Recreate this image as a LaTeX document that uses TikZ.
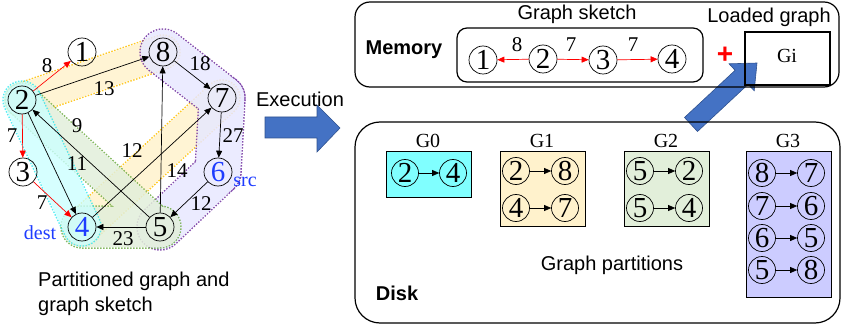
\documentclass[tikz,border=0pt]{standalone}
\usepackage{fontspec}
\setmainfont{Liberation Serif}
\setsansfont{Liberation Sans}
\usetikzlibrary{calc,arrows.meta}
\definecolor{execblue}{HTML}{4472C4}
\definecolor{execedge}{HTML}{2F528F}
\definecolor{txtblue}{RGB}{30,60,255}
\definecolor{gzerofill}{HTML}{80FFFF}
\definecolor{gonefill}{HTML}{FFF2CC}
\definecolor{gtwofill}{HTML}{E2EFDA}
\definecolor{gthreefill}{HTML}{CCCCFF}
\definecolor{gzeroline}{HTML}{30E8F0}
\definecolor{goneline}{HTML}{FFC000}
\definecolor{gtwoline}{HTML}{70AD47}
\definecolor{gthreeline}{HTML}{7030A0}

% stadium round the edge from #2 to #3, radius #4 (pt)
\newcommand{\partband}[4]{%
  \path[#1] let \p1=($(#3)-(#2)$), \n1={atan2(\y1,\x1)} in
    ($(#2)+(\n1+90:#4pt)$) arc[start angle=\n1+90, delta angle=180, radius=#4pt]
    -- ($(#3)+(\n1-90:#4pt)$) arc[start angle=\n1-90, delta angle=180, radius=#4pt] -- cycle;}

\begin{document}
\begin{tikzpicture}[x=1pt,y=-1pt,
  vtx/.style={circle,draw,line width=0.7pt,inner sep=0pt,minimum size=28pt,font=\fontsize{29}{29}\selectfont},
  pvtx/.style={vtx,minimum size=27pt},
  wlbl/.style={font=\fontsize{21}{21}\selectfont,inner sep=0pt},
  edge/.style={line width=0.7pt,-{Triangle[length=7pt,width=6pt]}},
  sk/.style={edge,red},
  sanslbl/.style={font=\sffamily\fontsize{20}{25}\selectfont,inner sep=0pt},
  glbl/.style={font=\fontsize{20}{20}\selectfont,inner sep=0pt,anchor=base},
  pbox/.style={draw,line width=1pt},
  hline/.style={line width=1.5pt,dash pattern=on 1.5pt off 1.5pt}]
\useasboundingbox (0,0) rectangle (841,326);

%% partitioned graph
\coordinate (p1) at (82,52);
\coordinate (p2) at (22,100);
\coordinate (p3) at (23,172);
\coordinate (p4) at (82,227);
\coordinate (p5) at (160,227);
\coordinate (p6) at (218,172);
\coordinate (p7) at (222,98);
\coordinate (p8) at (163,52);

% G1
\begin{scope}[transparency group,opacity=0.85]
\partband{hline,draw=goneline}{p2}{p8}{17}
\partband{hline,draw=goneline}{p4}{p7}{18}
\partband{fill=gonefill}{p2}{p8}{16.2}
\partband{fill=gonefill}{p4}{p7}{17.2}
\end{scope}
% G3
\begin{scope}[transparency group,opacity=0.85]
\partband{hline,draw=gthreeline}{p8}{p7}{23}
\partband{hline,draw=gthreeline}{p7}{p6}{23}
\partband{hline,draw=gthreeline}{p6}{p5}{23}
\partband{fill=gthreefill!45}{p8}{p7}{22.2}
\partband{fill=gthreefill!45}{p7}{p6}{22.2}
\partband{fill=gthreefill!45}{p6}{p5}{22.2}
\end{scope}
% G2
\begin{scope}[transparency group,opacity=0.85]
\partband{hline,draw=gtwoline}{p5}{p2}{17}
\partband{hline,draw=gtwoline}{p5}{p4}{21}
\partband{fill=gtwofill}{p5}{p2}{16.2}
\partband{fill=gtwofill}{p5}{p4}{20.2}
\end{scope}
% G0
\begin{scope}[transparency group,opacity=0.8]
\partband{hline,draw=gzeroline}{p2}{p4}{19}
\partband{fill=gzerofill!40}{p2}{p4}{18.2}
\end{scope}

\node[vtx] (n1) at (p1) {1};
\node[vtx] (n2) at (p2) {2};
\node[vtx] (n3) at (p3) {3};
\node[vtx,text=txtblue] (n4) at (p4) {4};
\node[vtx] (n5) at (p5) {5};
\node[vtx,text=txtblue] (n6) at (p6) {6};
\node[vtx] (n7) at (p7) {7};
\node[vtx] (n8) at (p8) {8};

\draw[sk] (n2) -- (n1);
\draw[sk] (n2) -- (n3);
\draw[sk] (n3) -- (n4);
\draw[edge] (n2) -- (n8);
\draw[edge] (n8) -- (n7);
\draw[edge] (n7) -- (n6);
\draw[edge] (n6) -- (n5);
\draw[edge] (n5) -- (n8);
\draw[edge] (n5) -- (n2);
\draw[edge] (n2) -- (n4);
\draw[edge] (n4) -- (n7);
\draw[edge] (n5) -- (n4);

\node[wlbl] (w21) at (47,66) {8};
\node[wlbl] (w28) at (104,89) {13};
\node[wlbl] (w87) at (200,64) {18};
\node[wlbl] (w23) at (12,136) {7};
\node[wlbl] (w52) at (77,126) {9};
\node[wlbl] (w24) at (77,164) {11};
\node[wlbl] (w47) at (132,151) {12};
\node[wlbl] (w58) at (177,171) {14};
\node[wlbl] (w76) at (233,136) {27};
\node[wlbl] (w65) at (201,204) {12};
\node[wlbl] (w34) at (42,203) {7};
\node[wlbl] (w54) at (123,239) {23};

\node[glbl,text=txtblue] (src) at (245,186) {src};
\node[glbl,text=txtblue] (dest) at (40,239) {dest};

\node[sanslbl,align=left,anchor=north west] (cap) at (38,272) {Partitioned graph and\\graph sketch};

%% execution arrow
\draw[fill=execblue,draw=execedge,line width=0.6pt] (265,117) -- (317,117) -- (317,105) -- (340,128)
  -- (317,152) -- (317,138) -- (265,138) -- cycle;
\node[sanslbl,anchor=base] (exec) at (300,107) {Execution};

%% load arrow
\draw[fill=execblue,draw=execedge,line width=0.6pt] (684.5,117.5) -- (735.1,70.3) -- (729,63.8) -- (757,63)
  -- (754.2,90.8) -- (748.1,84.3) -- (697.5,131.5) -- cycle;

%% memory
\draw[line width=1.2pt,rounded corners=15pt] (355,2) rectangle (839,87);
\node[sanslbl,font=\sffamily\bfseries\fontsize{20}{24}\selectfont,anchor=base] (mem) at (404,55) {Memory};
\draw[line width=1.2pt,rounded corners=10pt] (457,28) rectangle (703,82);
\node[sanslbl,anchor=base] (sketch) at (577,20) {Graph sketch};
\node[vtx] (s1) at (483,60) {1};
\node[vtx] (s2) at (543,59) {2};
\node[vtx] (s3) at (603,60) {3};
\node[vtx] (s4) at (672,59) {4};
\draw[sk] (s2) -- (s1);
\draw[sk] (s2) -- (s3);
\draw[sk] (s3) -- (s4);
\node[wlbl] (u21) at (517,45) {8};
\node[wlbl] (u23) at (571,45) {7};
\node[wlbl] (u34) at (633,45) {7};
\node[text=red,inner sep=0pt,font=\sffamily\bfseries\fontsize{28}{28}\selectfont] (plus) at (725,55) {+};
\node[sanslbl,anchor=base] (loaded) at (769,23) {Loaded graph};
\draw[line width=1.2pt] (745,32) rectangle (830,85);
\node[glbl] (gi) at (787,63) {Gi};

%% disk
\draw[line width=1.2pt,rounded corners=25pt] (355,122) rectangle (840,323);
\node[sanslbl,font=\sffamily\bfseries\fontsize{20}{24}\selectfont,anchor=base] (disk) at (397,300) {Disk};
\node[sanslbl,anchor=base] (parts) at (612,270) {Graph partitions};

\node[glbl] (lg0) at (428,148) {G0};
\node[glbl] (lg1) at (542,148) {G1};
\node[glbl] (lg2) at (666,148) {G2};
\node[glbl] (lg3) at (788,148) {G3};
\draw[pbox,fill=gzerofill] (386,152) rectangle (471,197);
\draw[pbox,fill=gonefill] (500,152) rectangle (585,226);
\draw[pbox,fill=gtwofill] (624,152) rectangle (709,226);
\draw[pbox,fill=gthreefill] (746,152) rectangle (831,297);

\node[pvtx] (g0a1) at (405,173) {2};
\node[pvtx] (g0b1) at (453,173) {4};
\draw[edge] (g0a1) -- (g0b1);

\node[pvtx] (g1a1) at (516,171) {2};
\node[pvtx] (g1b1) at (565,171) {8};
\draw[edge] (g1a1) -- (g1b1);
\node[pvtx] (g1a2) at (516,208) {4};
\node[pvtx] (g1b2) at (565,208) {7};
\draw[edge] (g1a2) -- (g1b2);

\node[pvtx] (g2a1) at (640,171) {5};
\node[pvtx] (g2b1) at (689,171) {2};
\draw[edge] (g2a1) -- (g2b1);
\node[pvtx] (g2a2) at (640,208) {5};
\node[pvtx] (g2b2) at (689,208) {4};
\draw[edge] (g2a2) -- (g2b2);

\node[pvtx] (g3a1) at (762,173) {8};
\node[pvtx] (g3b1) at (811,173) {7};
\draw[edge] (g3a1) -- (g3b1);
\node[pvtx] (g3a2) at (762,206) {7};
\node[pvtx] (g3b2) at (811,206) {6};
\draw[edge] (g3a2) -- (g3b2);
\node[pvtx] (g3a3) at (762,238) {6};
\node[pvtx] (g3b3) at (811,238) {5};
\draw[edge] (g3a3) -- (g3b3);
\node[pvtx] (g3a4) at (762,270) {5};
\node[pvtx] (g3b4) at (811,270) {8};
\draw[edge] (g3a4) -- (g3b4);

\end{tikzpicture}
\end{document}
